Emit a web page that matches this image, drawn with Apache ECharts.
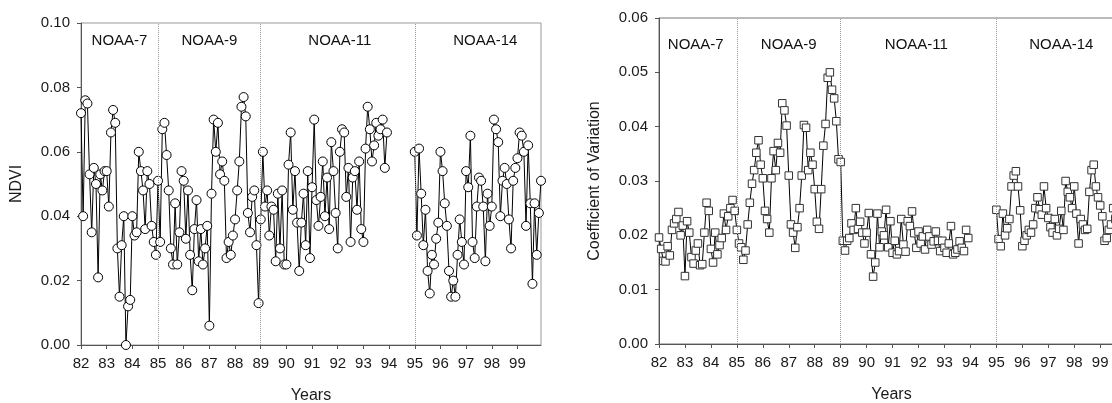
<!DOCTYPE html>
<html><head><meta charset="utf-8">
<script src="https://cdn.jsdelivr.net/npm/echarts@6/dist/echarts.min.js"></script>
<style>html,body{margin:0;padding:0;background:#fff}#c{width:1112px;height:403px}</style>
</head><body><div id="c"></div>
<script>
// ---- categories ----
const yearLabels = ['82','83','84','85','86','87','88','89','90','91','92','93','94','95','96','97','98','99'];
const monthsPerYear = 12;
const yTicksNdvi = ['0.00','0.02','0.04','0.06','0.08','0.10'];
const yTicksCv = ['0.00','0.01','0.02','0.03','0.04','0.05','0.06'];
const sensorNames = ['NOAA-7','NOAA-9','NOAA-11','NOAA-14'];
const sensorBreaks = ['85-1','89-1','95-1'];
const labelMonthsNdvi = ['83-7','87-1','92-2','97-10'];
const labelMonthsCv = ['83-6','87-1','91-12','97-7'];

// ---- NDVI (monthly, Jan..Dec) ----
const ndviNoaa7 = [
  0.072,0.040,0.076,0.075,0.053,0.035,0.055,0.050,0.021,0.053,0.048,0.054,
  0.054,0.043,0.066,0.073,0.069,0.030,0.015,0.031,0.040,0.000,0.012,0.014,
  0.040,0.034,0.035,0.060,0.054,0.048,0.036,0.054,0.050,0.037,0.032,0.028];
const ndviNoaa9 = [
  0.051,0.032,0.067,0.069,0.059,0.048,0.030,0.025,0.044,0.025,0.035,0.054,
  0.051,0.033,0.048,0.028,0.017,0.036,0.045,0.026,0.036,0.025,0.030,0.037,
  0.006,0.047,0.070,0.060,0.069,0.053,0.057,0.051,0.027,0.032,0.028,0.034,
  0.039,0.048,0.057,0.074,0.077,0.071,0.041,0.035,0.046,0.048,0.031,0.013];
const ndviNoaa11 = [
  0.039,0.060,0.043,0.048,0.034,0.043,0.042,0.026,0.047,0.030,0.048,0.025,
  0.025,0.056,0.066,0.042,0.054,0.038,0.023,0.038,0.047,0.031,0.054,0.027,
  0.049,0.070,0.045,0.037,0.046,0.057,0.040,0.052,0.036,0.063,0.054,0.041,
  0.030,0.060,0.067,0.066,0.046,0.055,0.032,0.052,0.054,0.042,0.057,0.036,
  0.032,0.061,0.074,0.067,0.057,0.062,0.069,0.065,0.067,0.070,0.055,0.066];
const ndviNoaa14 = [
  0.060,0.034,0.061,0.047,0.031,0.042,0.023,0.016,0.028,0.025,0.033,0.038,
  0.060,0.054,0.044,0.037,0.023,0.015,0.020,0.015,0.028,0.039,0.032,0.025,
  0.054,0.049,0.065,0.032,0.027,0.043,0.052,0.051,0.043,0.026,0.047,0.037,
  0.043,0.070,0.067,0.063,0.040,0.051,0.055,0.050,0.039,0.030,0.051,0.055,
  0.058,0.066,0.065,0.060,0.037,0.062,0.044,0.019,0.044,0.028,0.041,0.051];

// ---- Coefficient of variation (monthly) ----
const cvNoaa7 = [
  0.0196,0.0175,0.0153,0.0152,0.0180,0.0163,0.0210,0.0222,0.0230,0.0243,0.0200,0.0218,
  0.0125,0.0226,0.0205,0.0160,0.0148,0.0172,0.0185,0.0145,0.0147,0.0205,0.0260,0.0245,
  0.0175,0.0150,0.0205,0.0165,0.0182,0.0195,0.0240,0.0210,0.0235,0.0250,0.0265,0.0245];
const cvNoaa9 = [
  0.0210,0.0185,0.0178,0.0155,0.0172,0.0220,0.0260,0.0295,0.0320,0.0352,0.0375,0.0330,
  0.0305,0.0245,0.0230,0.0205,0.0305,0.0355,0.0320,0.0370,0.0352,0.0443,0.0430,0.0402,
  0.0310,0.0220,0.0205,0.0177,0.0215,0.0250,0.0310,0.0403,0.0398,0.0320,0.0352,0.0330,
  0.0285,0.0225,0.0212,0.0285,0.0365,0.0405,0.0490,0.0500,0.0468,0.0452,0.0410,0.0340];
const cvNoaa11 = [
  0.0335,0.0190,0.0172,0.0190,0.0195,0.0222,0.0210,0.0250,0.0212,0.0225,0.0205,0.0185,
  0.0205,0.0241,0.0165,0.0124,0.0150,0.0240,0.0178,0.0207,0.0200,0.0247,0.0178,0.0226,
  0.0168,0.0190,0.0165,0.0171,0.0230,0.0183,0.0170,0.0226,0.0217,0.0244,0.0204,0.0177,
  0.0207,0.0185,0.0198,0.0174,0.0210,0.0198,0.0183,0.0189,0.0207,0.0190,0.0171,0.0190,
  0.0177,0.0168,0.0185,0.0217,0.0165,0.0168,0.0174,0.0189,0.0177,0.0171,0.0210,0.0195];
const cvNoaa14 = [
  0.0247,0.0193,0.0180,0.0240,0.0200,0.0213,0.0230,0.0290,0.0310,0.0318,0.0290,0.0246,
  0.0180,0.0190,0.0200,0.0210,0.0205,0.0220,0.0250,0.0270,0.0248,0.0238,0.0290,0.0250,
  0.0232,0.0215,0.0205,0.0230,0.0200,0.0212,0.0245,0.0210,0.0300,0.0280,0.0270,0.0250,
  0.0290,0.0240,0.0185,0.0230,0.0220,0.0210,0.0212,0.0280,0.0320,0.0330,0.0290,0.0270,
  0.0255,0.0235,0.0190,0.0195,0.0210,0.0220,0.0250,0.0230,0.0210,0.0200,0.0215,0.0220];

// gap year 1994 (no data)
const gap1994 = new Array(12).fill(null);

// ---- build ----
const months = [];
yearLabels.forEach(y => { for (let m = 1; m <= monthsPerYear; m++) months.push(y + '-' + m); });
const ndviAll = [].concat(ndviNoaa7, ndviNoaa9, ndviNoaa11, gap1994, ndviNoaa14);
const cvAll = [].concat(cvNoaa7, cvNoaa9, cvNoaa11, gap1994, cvNoaa14);

const FONT = "'Liberation Sans', Arial, sans-serif";
const TXT = '#1a1a1a';
const isJan = (idx) => idx % monthsPerYear === 0;

function xAxis(gi) {
  return {
    type: 'category', gridIndex: gi, data: months, boundaryGap: false,
    name: 'Years', nameLocation: 'middle', nameGap: 43,
    nameTextStyle: { fontFamily: FONT, fontSize: 16, color: TXT },
    axisLine: { show: true, lineStyle: { color: '#555', width: 1 } },
    axisTick: { show: true, inside: false, length: 4, interval: isJan, lineStyle: { color: '#555' } },
    axisLabel: { interval: isJan, margin: 11, fontFamily: FONT, fontSize: 15, color: TXT,
      formatter: v => v.split('-')[0] },
    splitLine: { show: false }
  };
}
function yAxis(gi, name, max, step, labels) {
  return {
    type: 'value', gridIndex: gi, min: 0, max: max, interval: step,
    name: name, nameLocation: 'middle', nameGap: 56,
    nameTextStyle: { fontFamily: FONT, fontSize: 16, color: TXT },
    axisLine: { show: true, lineStyle: { color: '#555', width: 1 } },
    axisTick: { show: true, inside: false, length: 4, lineStyle: { color: '#555' } },
    axisLabel: { margin: 11, fontFamily: FONT, fontSize: 15, color: TXT,
      formatter: v => labels[Math.round(v / step)] },
    splitLine: { show: false }
  };
}
function breaks() {
  return {
    silent: true, symbol: ['none', 'none'], label: { show: false },
    lineStyle: { type: 'dotted', color: '#999', width: 1 },
    data: sensorBreaks.map(b => ({ xAxis: b }))
  };
}

const chart = echarts.init(document.getElementById('c'), null, { renderer: 'canvas' });
const option = {
  animation: false,
  backgroundColor: '#fff',
  grid: [
    { left: 81, top: 23, width: 460, height: 322, outerBoundsMode: 'none', containLabel: false,
      show: true, borderColor: '#999', borderWidth: 1, backgroundColor: 'transparent' },
    { left: 659, top: 18, width: 465, height: 326, outerBoundsMode: 'none', containLabel: false,
      show: true, borderColor: '#777', borderWidth: 1, backgroundColor: 'transparent' }
  ],
  xAxis: [xAxis(0), xAxis(1)],
  yAxis: [yAxis(0, 'NDVI', 0.1, 0.02, yTicksNdvi), yAxis(1, 'Coefficient of Variation', 0.06, 0.01, yTicksCv)],
  series: [
    { type: 'line', xAxisIndex: 0, yAxisIndex: 0, data: ndviAll, connectNulls: false,
      symbol: 'circle', symbolSize: 9, showAllSymbol: true,
      lineStyle: { color: '#000', width: 1 },
      itemStyle: { color: '#fff', borderColor: '#000', borderWidth: 1 },
      markLine: breaks() },
    { type: 'line', xAxisIndex: 1, yAxisIndex: 1, data: cvAll, connectNulls: false,
      symbol: 'rect', symbolSize: 7.5, showAllSymbol: true,
      lineStyle: { color: '#000', width: 1 },
      itemStyle: { color: '#fff', borderColor: '#333', borderWidth: 1 },
      markLine: breaks() }
  ]
};
chart.setOption(option);

// sensor period labels, placed through the axes
const gfx = [];
sensorNames.forEach((n, k) => {
  const x0 = chart.convertToPixel({ xAxisIndex: 0 }, labelMonthsNdvi[k]);
  const x1 = chart.convertToPixel({ xAxisIndex: 1 }, labelMonthsCv[k]);
  gfx.push({ type: 'text', x: x0, y: 41, style: { text: n, fontFamily: FONT, fontSize: 15, fill: '#111', align: 'center', verticalAlign: 'middle' } });
  gfx.push({ type: 'text', x: x1, y: 45, style: { text: n, fontFamily: FONT, fontSize: 15, fill: '#111', align: 'center', verticalAlign: 'middle' } });
});
chart.setOption({ graphic: gfx });
</script>
</body></html>
